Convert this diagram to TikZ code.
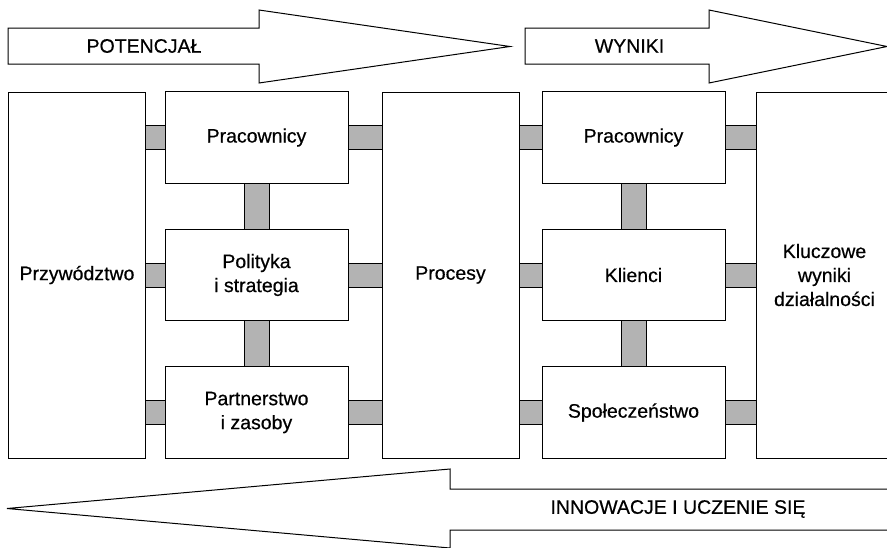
\documentclass[tikz,border=0pt]{standalone}
\usepackage{fontspec}
\setmainfont{Liberation Sans}[UprightFeatures={FakeBold=0.5}]
\usetikzlibrary{calc}
\definecolor{barGray}{RGB}{179, 179, 179}

\begin{document}
\begin{tikzpicture}[x=1pt, y=-1pt, line width=1pt,
    font=\fontsize{19.5}{24}\selectfont,
    box/.style={draw, fill=white, align=center, inner sep=0pt, outer sep=0pt,
                minimum width=183pt, minimum height=91.5pt},
    tall/.style={box, minimum width=137pt, minimum height=366pt},
    bar/.style={draw, fill=barGray}]
        \useasboundingbox (0,0) rectangle (887,547);
        % big arrows
        \draw (8,28) -- (259,28) -- (259,10) -- (510,46.5) -- (259,83) -- (259,64) -- (8,64) -- cycle;
        \draw (525,28) -- (709,28) -- (709,10) -- (887,46.5) -- (709,83) -- (709,64) -- (525,64) -- cycle;
        \draw (7,508.5) -- (450,469) -- (450,489) -- (900,489) -- (900,530) -- (450,530) -- (450,548) -- cycle;
        \node (potencjal) at (144,46) {POTENCJAŁ};
        \node (wyniki) at (629.5,46) {WYNIKI};
        \node (innowacje) at (678,509) {INNOWACJE I UCZENIE SIĘ};

        % columns
        \node[tall] (lead) at (77,275) {Przywództwo};
        \node[tall] (proc) at (450.5,275) {Procesy};
        \node[tall] (key) at (824.5,275) {Kluczowe\\wyniki\\działalności};
        \node[box] (m1) at (256.5,137.5) {Pracownicy};
        \node[box] (m2) at (256.5,275) {Polityka\\i strategia};
        \node[box] (m3) at (256.5,412.5) {Partnerstwo\\i zasoby};
        \node[box] (r1) at (633.5,137.5) {Pracownicy};
        \node[box] (r2) at (633.5,275) {Klienci};
        \node[box] (r3) at (633.5,412.5) {Społeczeństwo};

        % connectors
        \foreach \i in {1,2,3}
        {
            \draw[bar] ($(lead.east |- m\i.west)+(0,-12)$) rectangle ($(m\i.west)+(0,12)$);
            \draw[bar] ($(m\i.east)+(0,-12)$) rectangle ($(proc.west |- m\i.east)+(0,12)$);
            \draw[bar] ($(proc.east |- r\i.west)+(0,-12)$) rectangle ($(r\i.west)+(0,12)$);
            \draw[bar] ($(r\i.east)+(0,-12)$) rectangle ($(key.west |- r\i.east)+(0,12)$);
        }
        \foreach \a/\b in {m1/m2, m2/m3, r1/r2, r2/r3}
            \draw[bar] ($(\a.south)+(-12.5,0)$) rectangle ($(\b.north)+(12.5,0)$);
\end{tikzpicture}
\end{document}
